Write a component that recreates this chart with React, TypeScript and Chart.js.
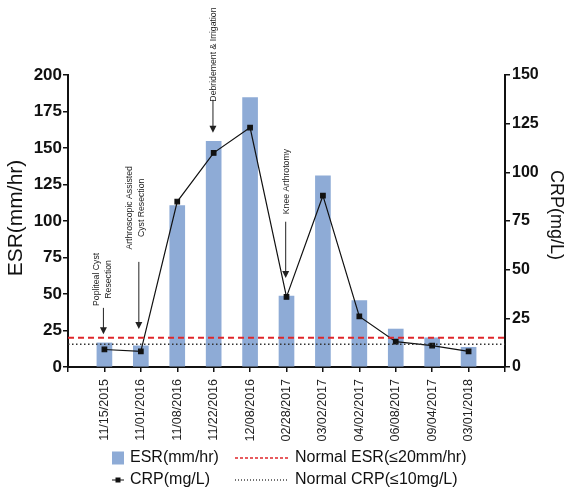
import React, { useEffect, useRef } from "react";
import { Chart, registerables } from "chart.js";

Chart.register(...registerables);

const dates = [
  "11/15/2015", "11/01/2016", "11/08/2016", "11/22/2016", "12/08/2016",
  "02/28/2017", "03/02/2017", "04/02/2017", "06/08/2017", "09/04/2017", "03/01/2018",
];
const esrValues = [16.5, 14.5, 110.5, 154.5, 184.5, 48.5, 131, 45.5, 26, 20, 13.5];
const crpValues = [9, 8, 85, 110, 123, 36, 88, 26, 13, 11, 8];
const esrNormal = 20;
const crpNormalDrawn = 11.7;

// labels padded by an empty category at each end
const labels = ["", ...dates, ""];
const esrData = [null, ...esrValues, null];
const crpData = [null, ...crpValues, null];

// annotations: category index, text lines, text centre (ESR units), arrow from/to (ESR units)
const notes = [
  { idx: 1, lines: ["Popliteal Cyst", "Resection"], center: 60, from: 40.5, to: 22.5, dx: -2, ax: -1 },
  { idx: 2, lines: ["Arthroscopic Assisted", "Cyst Resection"], center: 109, from: 72, to: 26, dx: -5, ax: -2 },
  { idx: 4, lines: ["Debridement & Irrigation"], center: 214, from: 183, to: 160.5, dx: 0, ax: -0.7 },
  { idx: 6, lines: ["Knee Arthrotomy"], center: 127, from: 99.5, to: 61, dx: 0, ax: -0.8 },
];

const FONT = "'Liberation Sans', Arial, Helvetica, sans-serif";
const BAR = "#8eabd6";
const RED = "#e0262a";

const drawPlugin = {
  id: "extras",
  afterDatasetsDraw(chart: any) {
    const { ctx, chartArea, scales } = chart;
    const x = scales.x, y = scales.y, y2 = scales.y2;
    ctx.save();
    // reference lines
    const ry = y.getPixelForValue(esrNormal);
    ctx.strokeStyle = RED;
    ctx.lineWidth = 2;
    ctx.setLineDash([6, 4]);
    ctx.beginPath();
    ctx.moveTo(chartArea.left, ry);
    ctx.lineTo(chartArea.right, ry);
    ctx.stroke();
    const cy = y2.getPixelForValue(crpNormalDrawn);
    ctx.strokeStyle = "#333";
    ctx.lineWidth = 1.5;
    ctx.setLineDash([1.5, 2.5]);
    ctx.beginPath();
    ctx.moveTo(chartArea.left, cy);
    ctx.lineTo(chartArea.right, cy);
    ctx.stroke();
    ctx.setLineDash([]);

    // annotations
    ctx.fillStyle = "#222";
    ctx.strokeStyle = "#222";
    ctx.font = `8.7px ${FONT}`;
    for (const n of notes) {
      const px = x.getPixelForValue(n.idx);
      const tc = y.getPixelForValue(n.center);
      ctx.save();
      ctx.translate(px + n.dx, tc);
      ctx.rotate(-Math.PI / 2);
      ctx.textAlign = "center";
      ctx.textBaseline = "middle";
      n.lines.forEach((l, i) => {
        ctx.fillText(l, 0, (i - (n.lines.length - 1) / 2) * 11.5);
      });
      ctx.restore();
      const ax = px + n.ax;
      const f = y.getPixelForValue(n.from);
      const t = y.getPixelForValue(n.to);
      ctx.lineWidth = 1;
      ctx.beginPath();
      ctx.moveTo(ax, f);
      ctx.lineTo(ax, t - 6);
      ctx.stroke();
      ctx.beginPath();
      ctx.moveTo(ax - 3.5, t - 7);
      ctx.lineTo(ax + 3.5, t - 7);
      ctx.lineTo(ax, t);
      ctx.closePath();
      ctx.fill();
    }
    ctx.restore();
  },
  afterDraw(chart: any) {
    const { ctx } = chart;
    ctx.save();
    ctx.fillStyle = "#111";
    // axis titles
    ctx.font = `21px ${FONT}`;
    ctx.textAlign = "center";
    ctx.textBaseline = "middle";
    ctx.save();
    ctx.translate(16, 218);
    ctx.rotate(-Math.PI / 2);
    ctx.fillText("ESR(mm/hr)", 0, 0);
    ctx.restore();
    ctx.font = `18px ${FONT}`;
    ctx.save();
    ctx.translate(556, 215);
    ctx.rotate(Math.PI / 2);
    ctx.fillText("CRP(mg/L)", 0, 0);
    ctx.restore();

    // legend
    const r1 = 458, r2 = 480;
    ctx.font = `16px ${FONT}`;
    ctx.textAlign = "left";
    ctx.textBaseline = "middle";
    ctx.fillStyle = BAR;
    ctx.fillRect(112, r1 - 6.5, 12, 13);
    ctx.fillStyle = "#111";
    ctx.fillText("ESR(mm/hr)", 130, r1);
    ctx.strokeStyle = "#111";
    ctx.lineWidth = 1;
    ctx.beginPath();
    ctx.moveTo(112, r2);
    ctx.lineTo(124, r2);
    ctx.stroke();
    ctx.fillRect(115.5, r2 - 2.5, 5, 5);
    ctx.fillText("CRP(mg/L)", 130, r2);

    ctx.strokeStyle = RED;
    ctx.lineWidth = 1.3;
    ctx.setLineDash([3, 2]);
    ctx.beginPath();
    ctx.moveTo(235, r1);
    ctx.lineTo(288, r1);
    ctx.stroke();
    ctx.strokeStyle = "#444";
    ctx.setLineDash([1, 2]);
    ctx.beginPath();
    ctx.moveTo(235, r2);
    ctx.lineTo(288, r2);
    ctx.stroke();
    ctx.setLineDash([]);
    ctx.fillStyle = "#111";
    ctx.fillText("Normal ESR(\u226420mm/hr)", 295, r1);
    ctx.fillText("Normal CRP(\u226410mg/L)", 295, r2);
    ctx.restore();
  },
};

export default function App() {
  const ref = useRef<HTMLCanvasElement>(null);
  useEffect(() => {
    document.body.style.margin = "0";
    if (!ref.current) return;
    const chart = new Chart(ref.current, {
      type: "bar",
      data: {
        labels,
        datasets: [
          {
            type: "line",
            label: "CRP(mg/L)",
            data: crpData,
            yAxisID: "y2",
            borderColor: "#111",
            backgroundColor: "#111",
            borderWidth: 1.2,
            pointStyle: "rect",
            pointRadius: 3.2,
            pointHoverRadius: 3.2,
            spanGaps: false,
            order: 0,
          } as any,
          {
            type: "bar",
            label: "ESR(mm/hr)",
            data: esrData,
            yAxisID: "y",
            backgroundColor: BAR,
            barThickness: 15,
            order: 1,
          } as any,
        ],
      },
      options: {
        animation: false,
        responsive: false,
        maintainAspectRatio: false,
        layout: { padding: { top: 75, left: 0, right: 0, bottom: 0 } },
        plugins: { legend: { display: false }, tooltip: { enabled: false } },
        scales: {
          x: {
            type: "category",
            offset: false,
            grid: { display: true, offset: false, drawOnChartArea: false, drawTicks: true, tickLength: 5, color: "#111", lineWidth: 1.5 },
            border: { display: true, color: "#111", width: 2 },
            ticks: {
              autoSkip: false,
              minRotation: 90,
              maxRotation: 90,
              padding: 7,
              color: "#222",
              font: { family: FONT, size: 12.5 },
            },
            afterFit: (s: any) => { s.height = 132; },
          },
          y: {
            position: "left",
            min: 0,
            max: 200,
            ticks: { stepSize: 25, padding: 1, color: "#111", font: { family: FONT, size: 17, weight: "bold" } },
            grid: { display: true, drawOnChartArea: false, drawTicks: true, tickLength: 5, color: "#111", lineWidth: 1.5 },
            border: { display: true, color: "#111", width: 2 },
            afterFit: (s: any) => { s.width = 68; },
          },
          y2: {
            position: "right",
            min: 0,
            max: 150,
            ticks: { stepSize: 25, padding: 2, color: "#111", font: { family: FONT, size: 16, weight: "bold" } },
            grid: { display: true, drawOnChartArea: false, drawTicks: true, tickLength: 5, color: "#111", lineWidth: 1.5 },
            border: { display: true, color: "#111", width: 2 },
            afterFit: (s: any) => { s.width = 59; },
          },
        },
      } as any,
      plugins: [drawPlugin],
    });
    return () => chart.destroy();
  }, []);
  return <canvas ref={ref} width={564} height={499} style={{ display: "block", width: 564, height: 499 }} />;
}
